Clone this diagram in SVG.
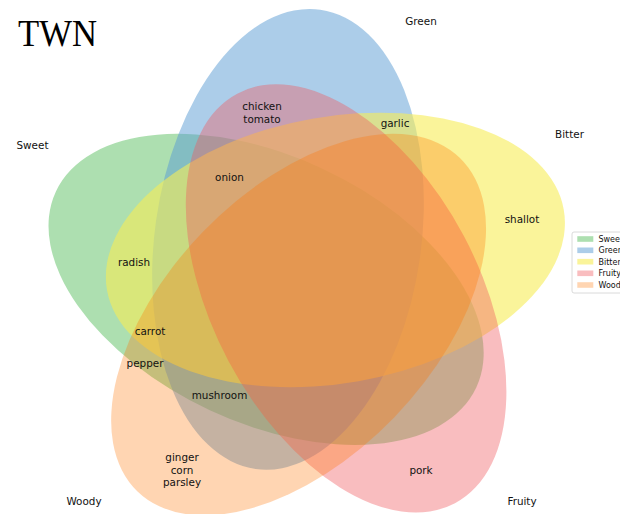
<svg xmlns="http://www.w3.org/2000/svg" width="620" height="514" viewBox="0 0 620 514">
  <style>
    .lbl { font-family: "DejaVu Sans", sans-serif; font-size: 10.4px; fill: #111; text-anchor: middle; }
    .leg { font-family: "DejaVu Sans", sans-serif; font-size: 8px; fill: #111; }
    .title { font-family: "Liberation Serif", "DejaVu Serif", serif; font-size: 38px; fill: #000; }
  </style>
  <rect width="620" height="514" fill="#ffffff"/>

  <text class="title" x="18" y="46" textLength="79" lengthAdjust="spacingAndGlyphs">TWN</text>

  <!-- five sets, drawn in order so later sets tint earlier ones -->
  <g id="set-sweet">
    <ellipse cx="0" cy="0" rx="231.9" ry="133.25" transform="translate(266.1,289.4) rotate(-155)" fill="rgb(92,192,98)" fill-opacity="0.5"/>
  </g>
  <g id="set-green">
    <ellipse cx="0" cy="0" rx="231.9" ry="133.25" transform="translate(288.0,239.3) rotate(-82)" fill="rgb(90,155,212)" fill-opacity="0.5"/>
  </g>
  <g id="set-bitter">
    <ellipse cx="0" cy="0" rx="231.9" ry="133.25" transform="translate(335.4,249.9) rotate(-10)" fill="rgb(246,236,86)" fill-opacity="0.6"/>
  </g>
  <g id="set-fruity">
    <ellipse cx="0" cy="0" rx="231.9" ry="133.25" transform="translate(346.1,298.4) rotate(-118)" fill="rgb(241,90,96)" fill-opacity="0.4"/>
  </g>
  <g id="set-woody">
    <ellipse cx="0" cy="0" rx="231.9" ry="133.25" transform="translate(298.6,324.6) rotate(-46)" fill="rgb(255,117,0)" fill-opacity="0.3"/>
  </g>

  <!-- set names -->
  <g id="names">
    <text class="lbl" x="32.5" y="148.7">Sweet</text>
    <text class="lbl" x="421" y="25.2">Green</text>
    <text class="lbl" x="569.5" y="137.8">Bitter</text>
    <text class="lbl" x="522" y="504.8">Fruity</text>
    <text class="lbl" x="84" y="504.8">Woody</text>
  </g>

  <!-- region members -->
  <g id="members">
    <text class="lbl" x="262" y="109.8">chicken</text>
    <text class="lbl" x="262" y="122.8">tomato</text>
    <text class="lbl" x="395" y="127">garlic</text>
    <text class="lbl" x="229.5" y="180.5">onion</text>
    <text class="lbl" x="522" y="222.8">shallot</text>
    <text class="lbl" x="134" y="265.5">radish</text>
    <text class="lbl" x="150" y="334.5">carrot</text>
    <text class="lbl" x="145" y="367">pepper</text>
    <text class="lbl" x="219.5" y="398.8">mushroom</text>
    <text class="lbl" x="182" y="460.5">ginger</text>
    <text class="lbl" x="182" y="473.5">corn</text>
    <text class="lbl" x="182" y="486.3">parsley</text>
    <text class="lbl" x="421" y="473.8">pork</text>
  </g>

  <!-- legend -->
  <g id="legend">
    <rect x="572" y="232" width="60" height="61" rx="2" fill="#ffffff" fill-opacity="0.8" stroke="#d0d0d0" stroke-width="0.8"/>
    <rect x="577.3" y="236.2" width="16" height="5.6" fill="rgb(92,192,98)" fill-opacity="0.5"/>
    <text class="leg" x="598.5" y="241.8">Sweet</text>
    <rect x="577.3" y="247.5" width="16" height="5.6" fill="rgb(90,155,212)" fill-opacity="0.5"/>
    <text class="leg" x="598.5" y="253.1">Green</text>
    <rect x="577.3" y="258.9" width="16" height="5.6" fill="rgb(246,236,86)" fill-opacity="0.6"/>
    <text class="leg" x="598.5" y="264.5">Bitter</text>
    <rect x="577.3" y="270.5" width="16" height="5.6" fill="rgb(241,90,96)" fill-opacity="0.4"/>
    <text class="leg" x="598.5" y="276.1">Fruity</text>
    <rect x="577.3" y="282.2" width="16" height="5.6" fill="rgb(255,117,0)" fill-opacity="0.3"/>
    <text class="leg" x="598.5" y="287.8">Woody</text>
  </g>
</svg>
